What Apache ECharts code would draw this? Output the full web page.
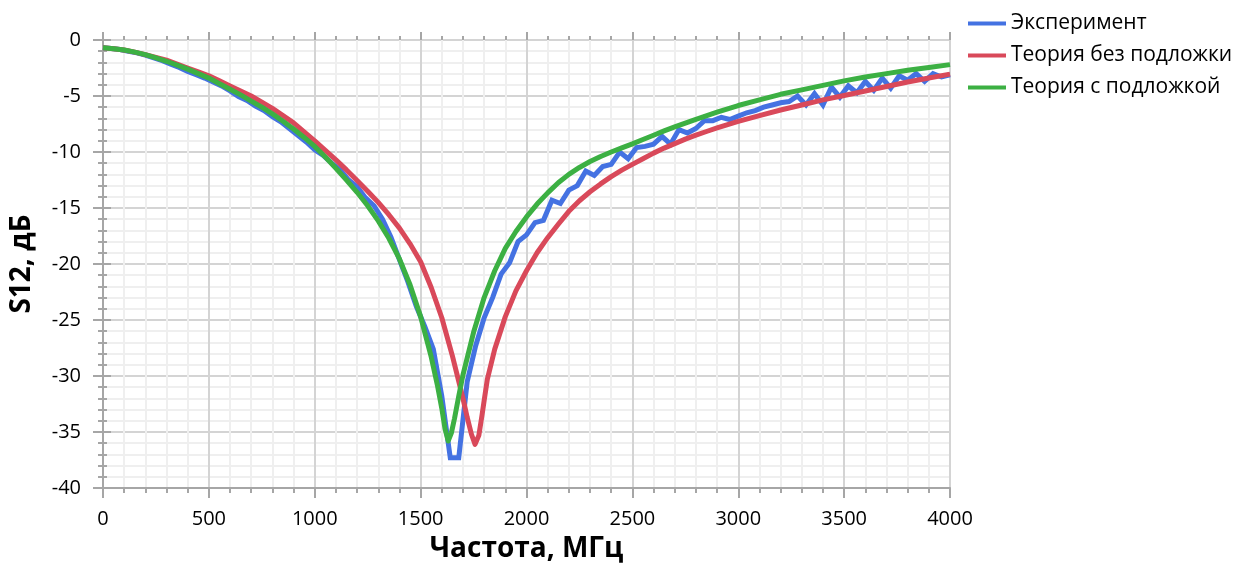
<!DOCTYPE html>
<html>
<head>
<meta charset="utf-8">
<script src="https://cdn.jsdelivr.net/npm/echarts@6/dist/echarts.min.js"></script>
<style>
html,body{margin:0;padding:0;background:#fff;}
#c{width:1252px;height:565px;}
</style>
</head>
<body>
<div id="c"></div>
<script>
// ---- data ----
const seriesNames = ['Эксперимент', 'Теория без подложки', 'Теория с подложкой'];
const xTitle = 'Частота, МГц';
const yTitle = 'S12, дБ';

// Experiment: sampled every 40 MHz from 0 to 4000
const expStart = 0, expStep = 40;
const expValues = [
  -0.7,-0.75,-0.85,-1.0,-1.15,-1.35,-1.6,-1.85,-2.15,-2.45,
  -2.8,-3.1,-3.4,-3.75,-4.1,-4.55,-5.05,-5.4,-5.9,-6.3,
  -6.85,-7.3,-7.9,-8.5,-9.1,-9.8,-10.3,-11.0,-11.6,-12.5,
  -13.1,-14.1,-14.8,-16.0,-17.6,-19.6,-21.6,-23.8,-25.6,-27.6,
  -31.8,-37.3,-37.3,-30.5,-27.3,-24.8,-23.0,-20.9,-19.9,-18.0,
  -17.4,-16.3,-16.1,-14.3,-14.6,-13.4,-13.0,-11.7,-12.1,-11.3,
  -11.1,-10.0,-10.6,-9.6,-9.5,-9.3,-8.6,-9.3,-8.0,-8.3,
  -7.9,-7.2,-7.2,-6.9,-7.1,-6.8,-6.5,-6.3,-6.0,-5.8,
  -5.6,-5.5,-5.0,-5.8,-4.8,-5.8,-4.2,-5.1,-4.1,-4.7,
  -3.7,-4.5,-3.4,-4.3,-3.2,-3.6,-3.0,-3.7,-3.0,-3.3,
  -3.1
];

// Theory without substrate
const noSubFreq = [0,50,100,150,200,250,300,350,400,450,500,550,600,650,700,750,800,850,900,950,1000,1050,1100,1150,1200,1250,1300,1350,1400,1450,1500,1550,1600,1650,1700,1720,1740,1757,1775,1790,1800,1815,1850,1900,1950,2000,2050,2100,2150,2200,2250,2300,2350,2400,2450,2500,2550,2600,2650,2700,2750,2800,2850,2900,2950,3000,3100,3200,3300,3400,3500,3600,3700,3800,3900,4000];
const noSubValues = [-0.7,-0.78,-0.9,-1.08,-1.3,-1.55,-1.8,-2.15,-2.5,-2.85,-3.2,-3.65,-4.1,-4.55,-5.0,-5.55,-6.1,-6.75,-7.4,-8.2,-9.0,-9.85,-10.7,-11.6,-12.55,-13.5,-14.5,-15.6,-16.8,-18.2,-19.8,-22.1,-24.8,-28.2,-32.0,-33.7,-35.2,-36.1,-35.3,-33.5,-32.2,-30.3,-27.6,-24.7,-22.4,-20.6,-19.0,-17.65,-16.45,-15.3,-14.35,-13.55,-12.85,-12.2,-11.62,-11.1,-10.6,-10.1,-9.65,-9.25,-8.85,-8.5,-8.17,-7.85,-7.55,-7.27,-6.75,-6.25,-5.8,-5.35,-4.95,-4.55,-4.15,-3.75,-3.4,-3.05];

// Theory with substrate
const subFreq = [0,50,100,150,200,250,300,350,400,450,500,550,600,650,700,750,800,850,900,950,1000,1050,1100,1150,1200,1250,1300,1350,1400,1450,1500,1550,1580,1600,1615,1630,1645,1660,1680,1700,1750,1800,1850,1900,1950,2000,2050,2100,2150,2200,2250,2300,2350,2400,2450,2500,2550,2600,2650,2700,2800,2900,3000,3100,3200,3300,3400,3500,3600,3700,3800,3900,4000];
const subValues = [-0.7,-0.78,-0.9,-1.08,-1.3,-1.6,-1.9,-2.25,-2.6,-3.0,-3.4,-3.9,-4.4,-4.9,-5.45,-6.0,-6.6,-7.25,-7.95,-8.7,-9.5,-10.45,-11.45,-12.5,-13.6,-14.8,-16.15,-17.7,-19.55,-21.85,-24.7,-28.3,-30.9,-32.9,-34.7,-35.8,-35.1,-33.8,-31.8,-29.9,-26.1,-23.0,-20.6,-18.6,-17.1,-15.8,-14.65,-13.65,-12.75,-12.0,-11.38,-10.85,-10.4,-10.0,-9.63,-9.27,-8.88,-8.5,-8.12,-7.76,-7.08,-6.45,-5.85,-5.35,-4.85,-4.45,-4.05,-3.65,-3.3,-3.0,-2.7,-2.45,-2.2];

const colors = ['#4472e2', '#d9495a', '#3cb043'];

// ---- build ----
const expData = expValues.map((v, i) => [expStart + i * expStep, v]);
const noSubData = noSubFreq.map((f, i) => [f, noSubValues[i]]);
const subData = subFreq.map((f, i) => [f, subValues[i]]);

const FONT = '"Open Sans", "Noto Sans", sans-serif';
const axisCol = '#a6a6a6';
const plain = v => String(v);

const chart = echarts.init(document.getElementById('c'), null, {renderer: 'canvas'});
chart.setOption({
  animation: false,
  color: colors,
  textStyle: {fontFamily: FONT},
  grid: {left: 103, top: 40, right: 302, bottom: 77, containLabel: false, outerBoundsMode: 'none'},
  legend: {
    orient: 'vertical',
    left: 963, top: 8,
    itemWidth: 38, itemHeight: 4, itemGap: 11,
    icon: 'rect',
    textStyle: {fontFamily: FONT, fontSize: 21, color: '#000'},
    data: seriesNames
  },
  xAxis: [{
    type: 'value', min: 0, max: 4000, interval: 500,
    name: xTitle, nameLocation: 'middle', nameGap: 47,
    nameTextStyle: {fontFamily: FONT, fontSize: 28, fontWeight: 'bold', color: '#000'},
    axisLine: {show: true, onZero: false, lineStyle: {color: axisCol, width: 2}},
    axisTick: {show: true, inside: false, length: 10, lineStyle: {color: axisCol, width: 2}},
    minorTick: {show: true, splitNumber: 5, length: 5, lineStyle: {color: axisCol, width: 2}},
    axisLabel: {fontFamily: FONT, fontSize: 20, color: '#000', margin: 21, formatter: plain},
    splitLine: {show: true, lineStyle: {color: '#d4d4d4', width: 2}},
    minorSplitLine: {show: true, lineStyle: {color: '#efefef', width: 2}}
  }, {
    type: 'value', min: 0, max: 4000, interval: 500, position: 'bottom',
    axisLine: {show: false},
    axisTick: {show: true, inside: true, length: 8, lineStyle: {color: axisCol, width: 2}},
    minorTick: {show: true, splitNumber: 5, length: 4, lineStyle: {color: axisCol, width: 2}},
    axisLabel: {show: false},
    splitLine: {show: false}
  }],
  yAxis: [{
    type: 'value', min: -40, max: 0, interval: 5,
    name: yTitle, nameLocation: 'middle', nameGap: 67, nameRotate: 90,
    nameTextStyle: {fontFamily: FONT, fontSize: 28, fontWeight: 'bold', color: '#000'},
    axisLine: {show: true, onZero: false, lineStyle: {color: axisCol, width: 2}},
    axisTick: {show: true, inside: false, length: 10, lineStyle: {color: axisCol, width: 2}},
    minorTick: {show: true, splitNumber: 5, length: 5, lineStyle: {color: axisCol, width: 2}},
    axisLabel: {fontFamily: FONT, fontSize: 20, color: '#000', margin: 22, formatter: plain},
    splitLine: {show: true, lineStyle: {color: '#d4d4d4', width: 2}},
    minorSplitLine: {show: true, lineStyle: {color: '#efefef', width: 2}}
  }, {
    type: 'value', min: -40, max: 0, interval: 5, position: 'left',
    axisLine: {show: false},
    axisTick: {show: true, inside: true, length: 8, lineStyle: {color: axisCol, width: 2}},
    minorTick: {show: true, splitNumber: 5, length: 4, lineStyle: {color: axisCol, width: 2}},
    axisLabel: {show: false},
    splitLine: {show: false}
  }],
  series: [
    {name: seriesNames[0], type: 'line', data: expData, showSymbol: false, symbol: 'none',
     lineStyle: {width: 5, color: colors[0], join: 'miter'}, z: 2},
    {name: seriesNames[1], type: 'line', data: noSubData, showSymbol: false, symbol: 'none',
     lineStyle: {width: 5, color: colors[1], join: 'round'}, z: 3},
    {name: seriesNames[2], type: 'line', data: subData, showSymbol: false, symbol: 'none',
     lineStyle: {width: 5, color: colors[2], join: 'round'}, z: 4}
  ]
});
</script>
</body>
</html>
